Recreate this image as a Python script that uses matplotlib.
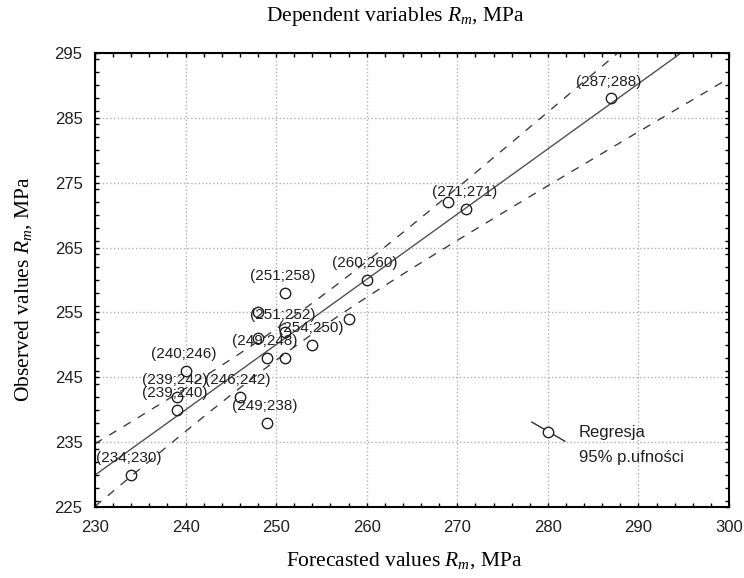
import numpy as np
import matplotlib
matplotlib.use("Agg")
import matplotlib.pyplot as plt
from matplotlib.ticker import MultipleLocator

# forecasted (x) vs observed (y) Rm values, MPa
forecast = [234, 239, 239, 240, 246, 249, 249, 248, 248, 251, 251, 251, 254, 258, 260, 269, 271, 287]
observed = [230, 240, 242, 246, 242, 238, 248, 251, 255, 248, 252, 258, 250, 254, 260, 272, 271, 288]
# which points carry a "(x;y)" label
labelled = [1, 1, 1, 1, 1, 1, 1, 0, 0, 0, 1, 1, 1, 0, 1, 0, 1, 1]

x_ticks = [230, 240, 250, 260, 270, 280, 290, 300]
y_ticks = [225, 235, 245, 255, 265, 275, 285, 295]
T_95 = 2.12  # t(0.975, df=16)

plt.rcParams['mathtext.fontset'] = 'custom'
plt.rcParams['mathtext.rm'] = 'Liberation Serif'
plt.rcParams['mathtext.it'] = 'Liberation Serif:italic'

fig = plt.figure(figsize=(7.44, 5.78), dpi=100)
ax = fig.add_axes([95 / 744, 71 / 578, 634 / 744, 454 / 578])

x = np.array(forecast, dtype=float)
y = np.array(observed, dtype=float)
n = len(x)
b, a = np.polyfit(x, y, 1)
resid = y - (a + b * x)
s = np.sqrt(np.sum(resid ** 2) / (n - 2))
sxx = np.sum((x - x.mean()) ** 2)

xs = np.linspace(230, 300, 200)
fit = a + b * xs
half = T_95 * s * np.sqrt(1 / n + (xs - x.mean()) ** 2 / sxx)

ax.plot(xs, fit, '-', color='#505050', lw=1.0)
ax.plot(xs, fit + half, '--', color='#404040', lw=1.0, dashes=(6, 6))
ax.plot(xs, fit - half, '--', color='#404040', lw=1.0, dashes=(6, 6))
ax.plot(x, y, 'o', mfc='none', mec='#202020', ms=7.5, mew=1.0)

for xi, yi, lab in zip(forecast, observed, labelled):
    if lab:
        ax.annotate(f'({xi};{yi})', (xi, yi), xytext=(-1.5, 12),
                    textcoords='offset points', ha='center', va='center',
                    fontsize=11, family='Liberation Sans', color='#202020')

ax.set_xlim(230, 300)
ax.set_ylim(225, 295)
ax.set_xticks(x_ticks)
ax.set_yticks(y_ticks)
ax.xaxis.set_minor_locator(MultipleLocator(2))
ax.yaxis.set_minor_locator(MultipleLocator(2))
ax.tick_params(which='both', direction='in', top=True, right=True, length=3,
               width=1, color='black')
ax.tick_params(axis='x', which='major', labelsize=12, pad=9)
ax.tick_params(axis='y', which='major', labelsize=12, pad=9)
for lbl in ax.get_xticklabels() + ax.get_yticklabels():
    lbl.set_family('Liberation Sans')
    lbl.set_color('#202020')
for sp in ax.spines.values():
    sp.set_linewidth(1.5)
ax.grid(True, which='major', linestyle=':', color='#b0b0b0', lw=1)

# legend, drawn the Statistica way (diagonal symbol)
ax.plot([0.689, 0.741], [0.187, 0.145], '-', color='#303030', lw=1.0,
        transform=ax.transAxes)
ax.plot([0.715], [0.166], 'o', mfc='white', mec='#202020', ms=7.5, mew=1.0,
        transform=ax.transAxes)
ax.text(0.763, 0.165, 'Regresja', transform=ax.transAxes, va='center',
        ha='left', fontsize=12, family='Liberation Sans', color='#202020')
ax.text(0.763, 0.110, '95% p.ufności', transform=ax.transAxes, va='center',
        ha='left', fontsize=12, family='Liberation Sans', color='#202020')

fig.text(396 / 744, 1 - 17 / 578, r'Dependent variables $R_m$, MPa',
         ha='center', va='center', fontsize=15.5, family='Liberation Serif')
fig.text(404 / 744, 1 - 561 / 578, r'Forecasted values $R_m$, MPa',
         ha='center', va='center', fontsize=15.5, family='Liberation Serif')
fig.text(24 / 744, 1 - 289 / 578, r'Observed values $R_m$, MPa', rotation=90,
         ha='center', va='center', fontsize=15.5, family='Liberation Serif')

fig.savefig('out.png', dpi=100)
